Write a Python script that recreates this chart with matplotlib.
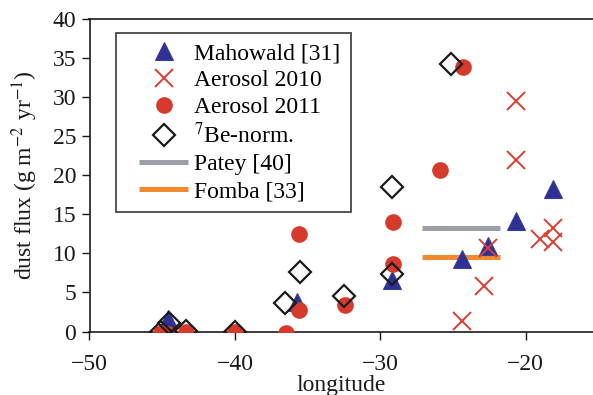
import matplotlib
matplotlib.use("Agg")
import matplotlib.pyplot as plt
from matplotlib.lines import Line2D
from matplotlib.legend_handler import HandlerLine2D

# ---- data ----
mah_lon = [-44.6, -35.7, -29.2, -24.35, -22.6, -20.7, -18.1]
mah_flux = [1.6, 3.8, 6.6, 9.3, 10.9, 14.2, 18.2]

a10_lon = [-20.7, -20.7, -22.6, -22.9, -24.4, -19.0, -18.1, -18.1]
a10_flux = [29.5, 21.9, 10.7, 5.8, 1.3, 11.8, 13.2, 11.5]

a11_lon = [-24.3, -25.9, -29.1, -29.1, -35.6, -35.6, -32.4, -36.5, -40.0, -43.35, -44.6, -45.1]
a11_flux = [33.9, 20.7, 14.0, 8.7, 12.5, 2.7, 3.4, -0.2, 0.0, 0.0, -0.3, -0.2]

be_lon = [-25.15, -29.2, -29.2, -32.5, -35.5, -36.55, -40.0, -43.35, -44.55, -45.1]
be_flux = [34.2, 18.5, 7.3, 4.6, 7.6, 3.6, 0.0, 0.1, 1.1, 0.0]

patey_lon = [-27.1, -21.8]
patey_flux = [13.2, 13.2]
fomba_lon = [-27.1, -21.8]
fomba_flux = [9.6, 9.6]

xticks = [-50, -40, -30, -20]
yticks = [0, 5, 10, 15, 20, 25, 30, 35, 40]

plt.rcParams['font.family'] = ['Liberation Serif', 'DejaVu Serif']
plt.rcParams['mathtext.fontset'] = 'stix'

FS = 17
W, H = 593, 395
fig = plt.figure(figsize=(W / 100, H / 100), dpi=100)
ax = fig.add_axes([89.5 / W, (H - 331.5) / H, 1 - 89.5 / W, (331.5 - 19) / H])

ax.plot(patey_lon, patey_flux, color='#9aa0a8', lw=3.6, solid_capstyle='butt',
        label='Patey [40]', zorder=1)
ax.plot(fomba_lon, fomba_flux, color='#f28a30', lw=3.6, solid_capstyle='butt',
        label='Fomba [33]', zorder=1)
ax.plot(mah_lon, mah_flux, ls='none', marker='^', ms=13.5, mfc='#2e3192',
        mec='#3a3f9e', mew=0.8, label='Mahowald [31]', zorder=2)
ax.plot(a10_lon, a10_flux, ls='none', marker='x', ms=13.5, mec='#dc3f2f',
        mew=1.4, label='Aerosol 2010', zorder=3)
ax.plot(a11_lon, a11_flux, ls='none', marker='o', ms=12, mfc='#d63a2a',
        mec='#d63a2a', mew=0, label='Aerosol 2011', zorder=4)
ax.plot(be_lon, be_flux, ls='none', marker='D', ms=11.5, mfc='none',
        mec='#1a1a1a', mew=1.6, label='$^{7}$Be-norm.', zorder=5)

handles, labels = ax.get_legend_handles_labels()
order = [2, 3, 4, 5, 0, 1]
leg = ax.legend([handles[i] for i in order], [labels[i] for i in order],
                loc='upper left', bbox_to_anchor=(116 / W, 1 - 33 / H),
                bbox_transform=fig.transFigure, borderaxespad=0,
                fontsize=FS, frameon=True, fancybox=False, edgecolor='#1a1a1a',
                handlelength=2.1 + 0.55, handletextpad=0.25, labelspacing=0.22,
                borderpad=0.42,
                handler_map={Line2D: HandlerLine2D(xpad=0.55)})
leg.get_frame().set_linewidth(1.3)

ax.set_xlim(-50, -50 + (W - 89.5) / 14.54)
ax.set_ylim(0, 40)
ax.set_xticks(xticks)
ax.set_yticks(yticks)
ax.set_xticklabels(['\u221250', '\u221240', '\u221230', '\u221220'])
ax.tick_params(direction='out', length=6, width=1, labelsize=FS, colors='#1a1a1a')
ax.tick_params(axis='x', pad=10)
for s in ['left', 'bottom', 'top']:
    ax.spines[s].set_linewidth(1.2)
    ax.spines[s].set_color('#1a1a1a')
ax.spines['right'].set_visible(False)

ax.set_xlabel('longitude', fontsize=FS, color='#1a1a1a', labelpad=0)
ax.set_ylabel('dust flux (g m$^{-2}$ yr$^{-1}$)', fontsize=FS, color='#1a1a1a', labelpad=9)

fig.savefig('out.png', dpi=100)
